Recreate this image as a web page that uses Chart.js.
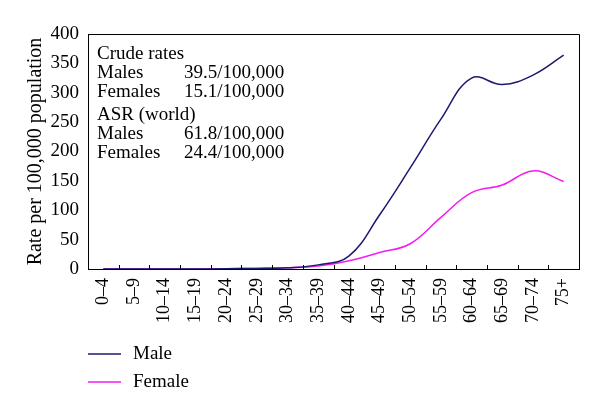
<!DOCTYPE html>
<html>
<head>
<meta charset="utf-8">
<script src="https://cdn.jsdelivr.net/npm/chart.js@4/dist/chart.umd.min.js"></script>
<style>
  html, body { margin: 0; padding: 0; background: #fff; }
  #wrap { position: relative; width: 600px; height: 415px; }
</style>
</head>
<body>
<div id="wrap"><canvas id="rateChart" width="600" height="415"></canvas></div>
<script>
// Age groups and rates per 100,000
const ageGroups = ['0–4', '5–9', '10–14', '15–19', '20–24', '25–29', '30–34', '35–39',
    '40–44', '45–49', '50–54', '55–59', '60–64', '65–69', '70–74', '75+'];
const maleRates = [0, 0, 0, 0, 0.5, 1, 2, 7, 22, 92, 172, 255, 325, 314, 330, 364];
const femaleRates = [0, 0, 0, 0, 0.5, 1, 2, 5, 14, 28, 43, 88, 130, 143, 167, 149];
const yTicks = [0, 50, 100, 150, 200, 250, 300, 350, 400];

// Text block in upper-left of plot
const noteLines = [
    ['Crude rates', ''],
    ['Males', '39.5/100,000'],
    ['Females', '15.1/100,000'],
    ['ASR (world)', ''],
    ['Males', '61.8/100,000'],
    ['Females', '24.4/100,000']
];

const FONT = '"Liberation Serif", "DejaVu Serif", serif';

// Draws the box frame, inward x ticks, notes and legend
const decorPlugin = {
    id: 'decor',
    afterDraw(chart) {
        const ctx = chart.ctx;
        const a = chart.chartArea;
        const xs = chart.scales.x;
        ctx.save();
        ctx.strokeStyle = '#000';
        ctx.lineWidth = 1;
        ctx.beginPath();
        ctx.moveTo(a.left, a.top + 0.5);
        ctx.lineTo(a.right + 0.5, a.top + 0.5);
        ctx.lineTo(a.right + 0.5, a.bottom);
        ctx.stroke();

        // tick marks between categories, pointing up
        ctx.beginPath();
        for (let i = 1; i < ageGroups.length; i++) {
            const x = Math.round((xs.getPixelForValue(i - 1) + xs.getPixelForValue(i)) / 2) + 0.5;
            ctx.moveTo(x, a.bottom);
            ctx.lineTo(x, a.bottom - 4);
        }
        ctx.stroke();

        // notes
        ctx.fillStyle = '#000';
        ctx.font = '19px ' + FONT;
        ctx.textBaseline = 'middle';
        let y = a.top + 20;
        noteLines.forEach((ln, i) => {
            if (i === 3) y += 4;
            ctx.fillText(ln[0], a.left + 9, y);
            if (ln[1]) ctx.fillText(ln[1], a.left + 96, y);
            y += 19;
        });

        // legend
        const items = chart.data.datasets;
        items.forEach((ds, i) => {
            const ly = 354 + i * 28;
            ctx.strokeStyle = ds.borderColor;
            ctx.lineWidth = 1.5;
            ctx.beginPath();
            ctx.moveTo(88, ly);
            ctx.lineTo(121, ly);
            ctx.stroke();
            ctx.fillStyle = '#000';
            ctx.fillText(ds.label, 133, ly);
        });
        ctx.restore();
    }
};

new Chart(document.getElementById('rateChart').getContext('2d'), {
    type: 'line',
    data: {
        labels: ageGroups,
        datasets: [{
            label: 'Male',
            data: maleRates,
            borderColor: '#1c1a6e',
            borderWidth: 1.5,
            pointRadius: 0,
            tension: 0.4,
            fill: false
        }, {
            label: 'Female',
            data: femaleRates,
            borderColor: '#f21cf0',
            borderWidth: 1.5,
            pointRadius: 0,
            tension: 0.4,
            fill: false
        }]
    },
    options: {
        responsive: false,
        animation: false,
        layout: { padding: { top: 34, right: 21, bottom: 66, left: 24 } },
        plugins: {
            legend: { display: false },
            tooltip: { enabled: false }
        },
        scales: {
            x: {
                offset: true,
                grid: { display: false, drawTicks: false },
                border: { display: true, color: '#000', width: 1 },
                afterFit: (scale) => { scale.height = 80; },
                ticks: {
                    color: '#000',
                    font: { family: FONT, size: 18 },
                    minRotation: 90,
                    maxRotation: 90,
                    autoSkip: false,
                    padding: 9
                }
            },
            y: {
                min: 0,
                max: 400,
                afterBuildTicks: (scale) => { scale.ticks = yTicks.map(v => ({ value: v })); },
                afterFit: (scale) => { scale.width = 64; },
                grid: { display: false, drawTicks: false },
                border: { display: true, color: '#000', width: 1 },
                title: {
                    display: true,
                    text: 'Rate per 100,000 population',
                    color: '#000',
                    font: { family: FONT, size: 20 },
                    padding: { top: 0, bottom: 4 }
                },
                ticks: {
                    color: '#000',
                    font: { family: FONT, size: 19 },
                    padding: 9
                }
            }
        }
    },
    plugins: [decorPlugin]
});
</script>
</body>
</html>
